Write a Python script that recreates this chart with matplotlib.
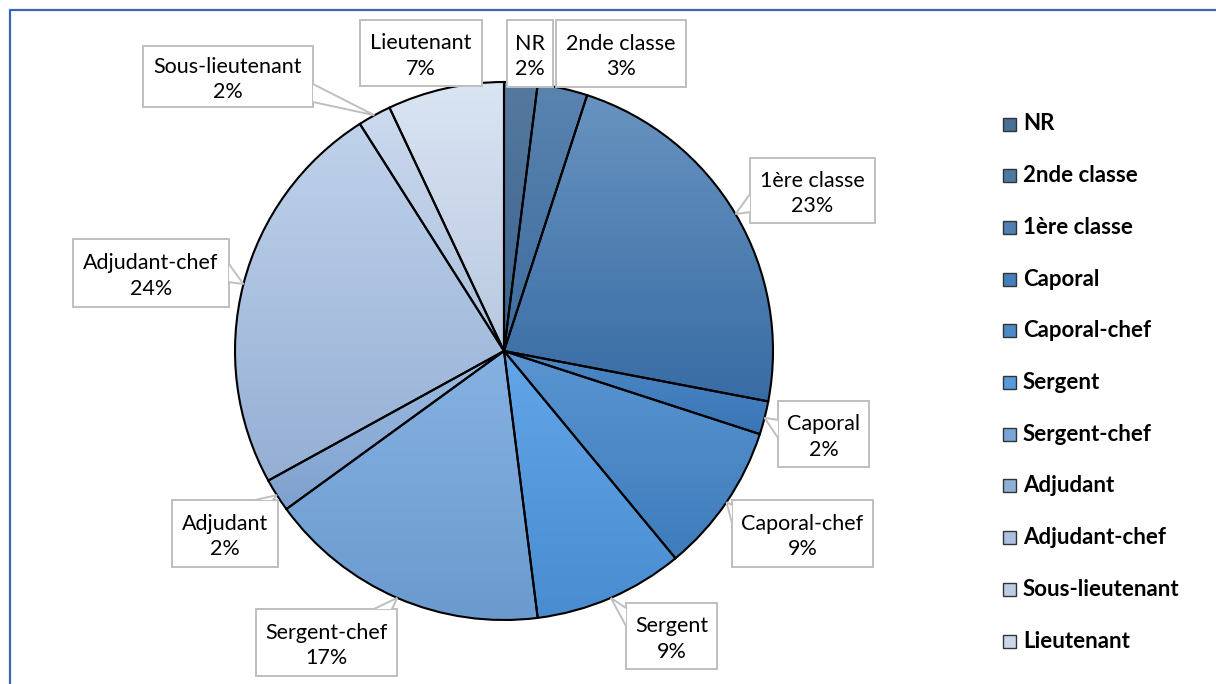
import numpy as np
import matplotlib
matplotlib.use("Agg")
import matplotlib.pyplot as plt
from matplotlib.patches import Rectangle, Polygon
from matplotlib.colors import to_rgb

# data
categories = ["NR", "2nde classe", "1ère classe", "Caporal", "Caporal-chef", "Sergent",
              "Sergent-chef", "Adjudant", "Adjudant-chef", "Sous-lieutenant", "Lieutenant"]
values = [2, 3, 23, 2, 9, 9, 17, 2, 24, 2, 7]

# gradient colours (top, bottom) for each slice
top_colors = ["#56799e", "#5a84b0", "#6893c0", "#4d88c6", "#5a95d2", "#62a5e8",
              "#86b2e2", "#9dbde4", "#bfd2eb", "#ccdaee", "#dae5f3"]
bottom_colors = ["#3a6490", "#3d6c9e", "#386ca4", "#3a76b6", "#3f7cbb", "#4a8cd0",
                 "#6a9ace", "#7ea0cc", "#95afd4", "#a9bddb", "#b9c8e0"]

# callout boxes in picture pixels (left, top, right, bottom)
boxes = [(507, 20, 553, 87), (556, 20, 686, 87), (750, 158, 875, 223),
         (778, 401, 869, 467), (732, 500, 873, 567), (626, 603, 717, 669),
         (256, 609, 397, 676), (172, 500, 278, 567), (73, 239, 229, 307),
         (143, 46, 313, 107), (360, 20, 482, 86)]

W, H = 1216, 684
FONT = "Lato"

fig = plt.figure(figsize=(W / 100, H / 100), dpi=100)
ax = fig.add_axes([0, 0, 1, 1])

cx, cy, R = 504, H - 351, 269
wedges, _ = ax.pie(values, startangle=90, counterclock=False, center=(cx, cy), radius=R,
                   wedgeprops=dict(facecolor="none", edgecolor="black", linewidth=1.5, zorder=2))

for w, c0, c1 in zip(wedges, top_colors, bottom_colors):
    ext = w.get_path().get_extents()
    a, b = np.array(to_rgb(c0)), np.array(to_rgb(c1))
    t = np.linspace(0, 1, 256)[:, None]
    grad = (a * (1 - t) + b * t)[:, None, :]
    im = ax.imshow(grad, extent=(ext.x0, ext.x1, ext.y0, ext.y1), aspect="auto",
                   origin="upper", interpolation="bilinear", zorder=1)
    im.set_clip_path(w)

# callouts
gray = "#bfbfbf"
for w, name, v, (l, t, r, b) in zip(wedges, categories, values, boxes):
    mid = np.deg2rad((w.theta1 + w.theta2) / 2)
    tx, ty = cx + R * np.cos(mid), cy + R * np.sin(mid)
    y0, y1 = H - b, H - t
    ax.add_patch(Rectangle((l, y0), r - l, y1 - y0, facecolor="white", edgecolor=gray,
                           linewidth=1.4, zorder=3))
    dx = l - tx if tx < l else (tx - r if tx > r else 0)
    dy = y0 - ty if ty < y0 else (ty - y1 if ty > y1 else 0)
    if max(dx, dy) > 3:
        if dx > dy:
            ex = l if tx < l else r
            py = min(max(ty, y0 + 3), y1 - 3)
            s = 1 if (y0 + y1) / 2 > py else -1
            p1, p2 = (ex, py + s * 2), (ex, py + s * 20)
        else:
            ey = y0 if ty < y0 else y1
            px = min(max(tx, l + 3), r - 3)
            s = 1 if (l + r) / 2 > px else -1
            p1, p2 = (px + s * 2, ey), (px + s * 20, ey)
        ax.add_patch(Polygon([p1, (tx, ty), p2], closed=True, facecolor="white",
                             edgecolor="none", zorder=4))
        ax.plot([p1[0], tx, p2[0]], [p1[1], ty, p2[1]], color=gray, lw=1.4, zorder=5,
                solid_joinstyle="miter")
    ax.text((l + r) / 2, (y0 + y1) / 2 - 3, f"{name}\n{v}%", ha="center", va="center",
            fontsize=15.5, family=FONT, color="black", linespacing=1.35, zorder=6)

# legend
for i, name in enumerate(categories):
    yy = H - (124 + i * 51.7)
    mc = (np.array(to_rgb(top_colors[i])) + np.array(to_rgb(bottom_colors[i]))) / 2
    ax.add_patch(Rectangle((1003, yy - 6.5), 13, 13, facecolor=mc, edgecolor="#333333",
                           linewidth=1.0, zorder=3))
    ax.text(1023, yy, name, ha="left", va="center", fontsize=16, family=FONT,
            fontweight="bold", color="black", zorder=3)

# chart border
ax.plot([10, 10, W + 5], [-5, H - 10, H - 10], color="#3a67b2", lw=1.6, clip_on=False, zorder=7)

ax.set_xlim(0, W)
ax.set_ylim(0, H)
ax.set_aspect("auto")
ax.axis("off")
fig.savefig("out.png", dpi=100)
